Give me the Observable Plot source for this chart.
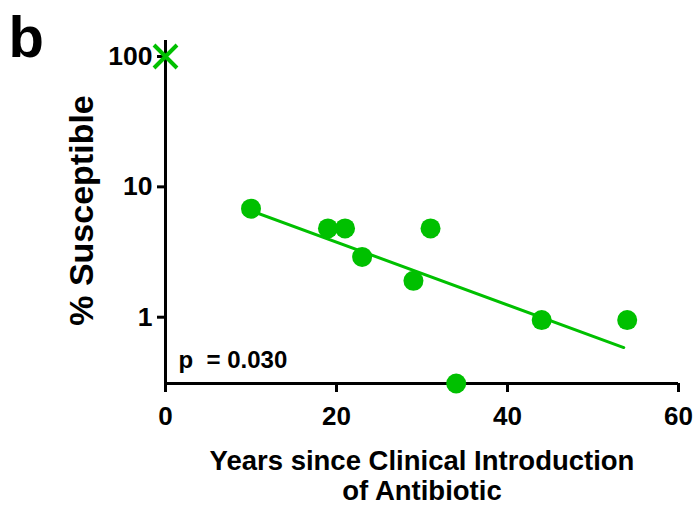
<!DOCTYPE html>
<html>
<head>
<meta charset="utf-8">
<script src="https://cdn.jsdelivr.net/npm/d3@7"></script>
<script src="https://cdn.jsdelivr.net/npm/@observablehq/plot@0.6"></script>
<style>
  html, body { margin: 0; padding: 0; background: #fff; }
  #chart svg { display: block; }
</style>
</head>
<body>
<div id="chart"></div>
<script>
// Data
const years = [10, 19, 21, 23, 29, 31, 34, 44, 54];
const susceptible = [6.8, 4.8, 4.8, 2.9, 1.9, 4.8, 0.31, 0.95, 0.95];
const crossYears = [0];
const crossSusceptible = [100];
const fitYears = [10, 53.6];
const fitSusceptible = [6.55, 0.585];
const xTicks = [0, 20, 40, 60];
const yTicks = [1, 10, 100];
const xDomain = [0, 60];
const yDomain = [0.31, 132.7];
const pLabel = "p\u00a0 = 0.030";
const panelLabel = "b";
const xTitle = "Years since Clinical Introduction\nof Antibiotic";
const yTitle = "% Susceptible";

const green = "#00c000";
const font = "'Liberation Sans', Arial, Helvetica, sans-serif";

const points = years.map((x, i) => ({x, y: susceptible[i]}));
const cross = crossYears.map((x, i) => ({x, y: crossSusceptible[i]}));
const fit = fitYears.map((x, i) => ({x, y: fitSusceptible[i]}));

const chart = Plot.plot({
  width: 694,
  height: 505,
  marginLeft: 165,
  marginRight: 16,
  marginTop: 40,
  marginBottom: 122,
  style: {fontFamily: font, fontWeight: "bold", fontSize: "26px", background: "#fff", color: "#000"},
  x: {domain: xDomain},
  y: {type: "log", domain: yDomain},
  marks: [
    Plot.axisX({ticks: xTicks, tickSize: 9, tickPadding: 14, strokeWidth: 3, fontSize: 26, fontWeight: "bold", label: null, tickFormat: d => String(d)}),
    Plot.axisY({ticks: yTicks, tickSize: 8, tickPadding: 5, strokeWidth: 3, fontSize: 26.5, fontWeight: "bold", label: null, tickFormat: d => String(d)}),
    Plot.ruleX([xDomain[0]], {stroke: "black", strokeWidth: 3}),
    Plot.ruleY([yDomain[0]], {stroke: "black", strokeWidth: 3}),
    Plot.line(fit, {x: "x", y: "y", stroke: green, strokeWidth: 3}),
    Plot.dot(points, {x: "x", y: "y", r: 10, fill: green, stroke: "none"}),
    Plot.dot(cross, {x: "x", y: "y", symbol: "times", r: 10.5, stroke: green, strokeWidth: 4}),
    Plot.text([pLabel], {text: d => d, frameAnchor: "bottom-left", textAnchor: "start", lineAnchor: "bottom", dx: 13, dy: -16, fontSize: 24, fontWeight: "bold", fill: "black"}),
    Plot.text([panelLabel], {text: d => d, frameAnchor: "top-left", textAnchor: "start", lineAnchor: "bottom", dx: -157, dy: 16, fontSize: 58, fontWeight: "bold", fill: "black"}),
    Plot.text([xTitle], {text: d => d, frameAnchor: "bottom", textAnchor: "middle", lineAnchor: "bottom", lineHeight: 1.08, dy: 116, fontSize: 27.5, fontWeight: "bold", fill: "black"}),
    Plot.text([yTitle], {text: d => d, frameAnchor: "left", textAnchor: "middle", lineAnchor: "middle", rotate: -90, dx: -83, dy: -1.5, fontSize: 34, fontWeight: "bold", fill: "black"})
  ]
});
document.getElementById("chart").appendChild(chart);
</script>
</body>
</html>
